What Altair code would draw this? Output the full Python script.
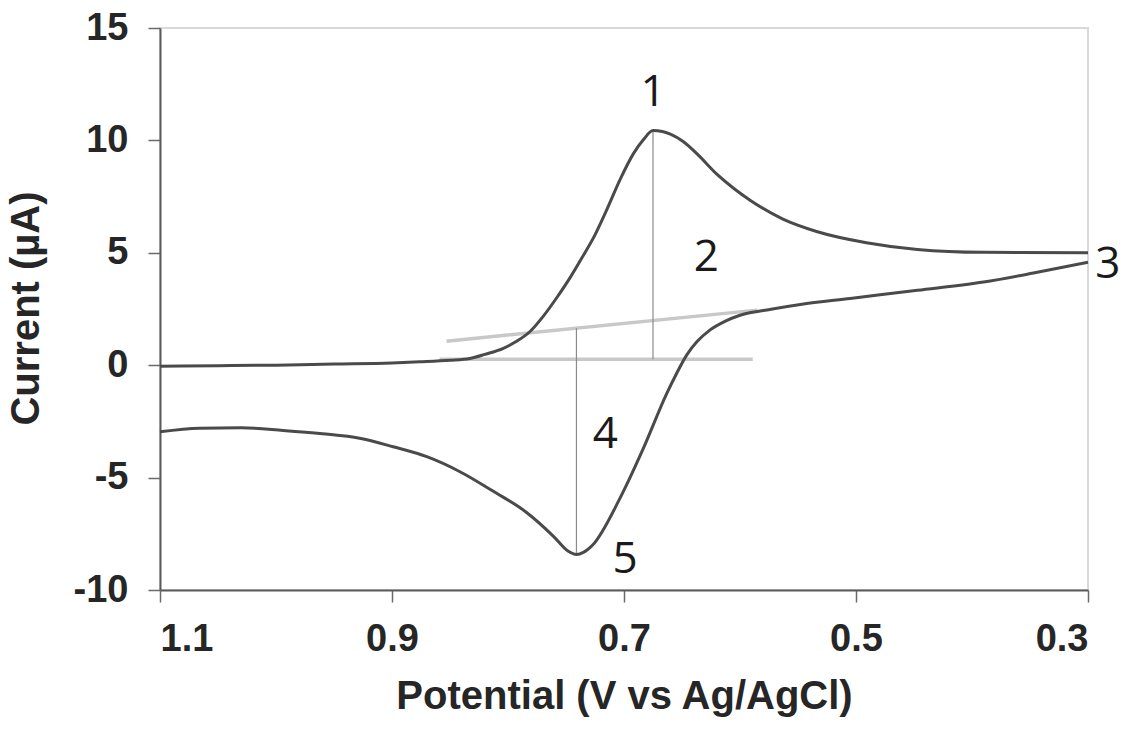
import altair as alt
import pandas as pd

# Forward (upper) branch, scanned from 1.1 V to 0.3 V
upper_x = [1.10, 1.05, 1.00, 0.95, 0.90, 0.876, 0.85, 0.833, 0.82, 0.804, 0.793, 0.781, 0.770,
           0.758, 0.747, 0.736, 0.725, 0.715, 0.703, 0.692, 0.683, 0.675, 0.667, 0.660, 0.649,
           0.637, 0.620, 0.605, 0.591, 0.563, 0.534, 0.491, 0.447, 0.39, 0.30]
upper_y = [-0.05, -0.02, 0.0, 0.05, 0.1, 0.15, 0.22, 0.3, 0.48, 0.75, 1.05, 1.5, 2.15,
           3.0, 3.85, 4.8, 5.8, 6.9, 8.3, 9.4, 10.05, 10.44, 10.4, 10.28, 9.95,
           9.4, 8.5, 7.85, 7.33, 6.5, 5.95, 5.45, 5.15, 5.02, 5.0]
# Reverse (lower) branch, scanned from 0.3 V back to 1.1 V
lower_x = [0.30, 0.347, 0.39, 0.447, 0.505, 0.548, 0.572, 0.60, 0.613, 0.626, 0.637, 0.646,
           0.655, 0.663, 0.684, 0.703, 0.727, 0.735, 0.741, 0.748, 0.761, 0.784, 0.813, 0.841,
           0.870, 0.899, 0.928, 0.96, 0.994, 1.03, 1.066, 1.10]
lower_y = [4.58, 4.1, 3.7, 3.33, 2.97, 2.7, 2.5, 2.22, 1.95, 1.56, 1.05, 0.45,
           -0.4, -1.24, -3.78, -5.87, -8.0, -8.33, -8.42, -8.28, -7.6, -6.55, -5.6, -4.75,
           -4.07, -3.63, -3.25, -3.05, -2.9, -2.78, -2.8, -2.96]

# Baseline construction lines (light gray): sloped one and flat one
base_x1 = [0.853, 0.859]
base_x2 = [0.585, 0.589]
base_y1 = [1.07, 0.27]
base_y2 = [2.45, 0.27]

# Peak-height markers (thin vertical lines)
peak_x = [0.675, 0.741]
peak_y1 = [0.27, 1.65]
peak_y2 = [10.44, -8.42]

# Numbered annotations
ann_label = ["1", "2", "3", "4", "5"]
ann_x = [0.675, 0.629, 0.283, 0.716, 0.699]
ann_y = [12.1, 4.75, 4.44, -3.1, -8.67]

x_ticks = [1.1, 0.9, 0.7, 0.5, 0.3]
y_ticks = [-10, -5, 0, 5, 10, 15]

curve = pd.DataFrame({
    "x": upper_x + lower_x,
    "y": upper_y + lower_y,
    "branch": ["forward"] * len(upper_x) + ["reverse"] * len(lower_x),
})
base = pd.DataFrame({"x": base_x1, "x2": base_x2, "y": base_y1, "y2": base_y2})
peaks = pd.DataFrame({"x": peak_x, "y": peak_y1, "y2": peak_y2})
ann = pd.DataFrame({"label": ann_label, "x": ann_x, "y": ann_y})

xscale = alt.Scale(domain=[0.3, 1.1], reverse=True, nice=False, zero=False)
yscale = alt.Scale(domain=[-10, 15], nice=False, zero=False)

xaxis = alt.Axis(values=x_ticks, format=".1f", title="Potential (V vs Ag/AgCl)",
                 labelPadding=18, titlePadding=18)
yaxis = alt.Axis(values=y_ticks, labelExpr="'' + datum.value", title="Current (µA)",
                 labelPadding=20, titleX=-114, titleY=280, titleBaseline="bottom")

line = alt.Chart(curve).mark_line(
    color="#4a4a4a", strokeWidth=3, interpolate="monotone"
).encode(
    x=alt.X("x:Q", scale=xscale, axis=xaxis),
    y=alt.Y("y:Q", scale=yscale, axis=yaxis),
    detail="branch:N",
)

base_lines = alt.Chart(base).mark_rule(color="#c8c8c8", strokeWidth=3.5).encode(
    x="x:Q", x2="x2:Q", y="y:Q", y2="y2:Q"
)

peak_lines = alt.Chart(peaks).mark_rule(color="#8a8a8a", strokeWidth=1.2).encode(
    x="x:Q", y="y:Q", y2="y2:Q"
)

labels = alt.Chart(ann).mark_text(
    font="Open Sans", fontSize=44, color="#1a1a1a", align="center", baseline="middle"
).encode(x="x:Q", y="y:Q", text="label:N")

chart = alt.layer(base_lines, peak_lines, line, labels).properties(
    width=928, height=562,
    autosize=alt.AutoSizeParams(type="none"),
    padding={"left": 160, "top": 28, "right": 44, "bottom": 154},
    background="white",
).configure_view(
    stroke="#d9d9d9", strokeWidth=2
).configure_axis(
    grid=False,
    domainColor="#5a5a5a", domainWidth=2,
    tickColor="#6a6a6a", tickWidth=1.5, tickSize=12,
    labelFont="Liberation Sans", labelFontSize=38, labelFontWeight="bold", labelColor="#262626",
    titleFont="Liberation Sans", titleFontSize=40, titleFontWeight="bold", titleColor="#262626",
)

chart.save("out.html", embed_options={"renderer": "svg", "actions": False})
